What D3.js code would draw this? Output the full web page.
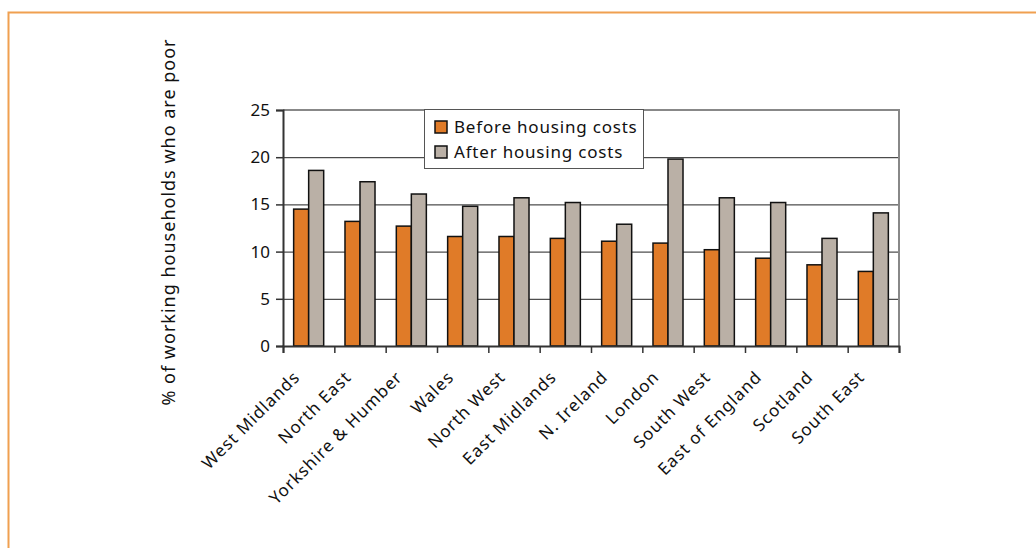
<!DOCTYPE html>
<html>
<head>
<meta charset="utf-8">
<script src="https://cdn.jsdelivr.net/npm/d3@7"></script>
<style>
  html, body { margin: 0; padding: 0; background: #fff; }
  svg text { font-family: "Noto Sans", "Open Sans", sans-serif; fill: #111; }
</style>
</head>
<body>
<div id="chart"></div>
<script>
const width = 1036;
const height = 548;
const margin = { top: 110, right: 137, bottom: 202, left: 283 };

// data
const regions = ["West Midlands", "North East", "Yorkshire & Humber", "Wales", "North West",
  "East Midlands", "N. Ireland", "London", "South West", "East of England", "Scotland", "South East"];
const beforeHC = [14.5, 13.2, 12.7, 11.6, 11.6, 11.4, 11.1, 10.9, 10.2, 9.3, 8.6, 7.9];
const afterHC = [18.6, 17.4, 16.1, 14.8, 15.7, 15.2, 12.9, 19.8, 15.7, 15.2, 11.4, 14.1];
const seriesNames = ["Before housing costs", "After housing costs"];
const yTicks = [0, 5, 10, 15, 20, 25];
const yLabel = "% of working households who are poor";

const colors = ["#E07B28", "#BAB0A6"];

const data = regions.map((r, i) => ({ region: r, values: [beforeHC[i], afterHC[i]] }));

const svg = d3.select("#chart").append("svg")
  .attr("width", width)
  .attr("height", height);

// ===== FRAME =====
svg.append("path")
  .attr("d", `M8.5,${height} V12.5 H${width}`)
  .attr("fill", "none")
  .attr("stroke", "#F0A050")
  .attr("stroke-width", 2);

const x0 = d3.scaleBand()
  .domain(regions)
  .range([margin.left, width - margin.right])
  .paddingInner(0.415)
  .paddingOuter(0.2075);

const x1 = d3.scaleBand()
  .domain([0, 1])
  .range([0, x0.bandwidth()]);

const y = d3.scaleLinear()
  .domain([0, 25])
  .range([height - margin.bottom, margin.top]);

// ===== GRIDLINES =====
svg.append("g")
  .selectAll("line")
  .data(yTicks.filter((d) => d > 0 && d < 25))
  .enter()
  .append("line")
  .attr("x1", margin.left)
  .attr("x2", width - margin.right)
  .attr("y1", (d) => y(d) + 0.5)
  .attr("y2", (d) => y(d) + 0.5)
  .attr("stroke", "#222")
  .attr("stroke-width", 1);

// top & right plot border
svg.append("path")
  .attr("d", `M${margin.left},${y(25)} H${width - margin.right} V${y(0)}`)
  .attr("fill", "none")
  .attr("stroke", "#888")
  .attr("stroke-width", 2);

// ===== BARS =====
const groups = svg.append("g")
  .selectAll("g")
  .data(data)
  .enter()
  .append("g")
  .attr("transform", (d) => `translate(${x0(d.region)},0)`);

groups.selectAll("rect")
  .data((d) => d.values.map((v, k) => ({ k, v })))
  .enter()
  .append("rect")
  .attr("x", (d) => x1(d.k))
  .attr("y", (d) => y(d.v))
  .attr("width", x1.bandwidth())
  .attr("height", (d) => y(0) - y(d.v))
  .attr("fill", (d) => colors[d.k])
  .attr("stroke", "#111")
  .attr("stroke-width", 1.5);

// ===== AXES =====
const yAxis = svg.append("g")
  .attr("transform", `translate(${margin.left},0)`)
  .call(d3.axisLeft(y).tickValues(yTicks).tickSize(7).tickPadding(6));
yAxis.select(".domain").attr("stroke", "#333").attr("stroke-width", 2);
yAxis.selectAll(".tick line").attr("stroke", "#333").attr("stroke-width", 1.5);
yAxis.selectAll("text").style("font-size", "17px").style("fill", "#111");

// category boundary ticks
const xIdx = d3.scaleLinear().domain([0, regions.length]).range([margin.left, width - margin.right]);
const xAxis = svg.append("g")
  .attr("transform", `translate(0,${y(0)})`)
  .call(d3.axisBottom(xIdx).ticks(regions.length).tickSize(7).tickFormat(""));
xAxis.select(".domain").attr("stroke", "#333").attr("stroke-width", 2);
xAxis.selectAll(".tick line").attr("stroke", "#333").attr("stroke-width", 1.5);

// rotated category labels
svg.append("g")
  .selectAll("text")
  .data(regions)
  .enter()
  .append("text")
  .attr("transform", (d) => `translate(${x0(d) + x0.bandwidth() / 2 - 12},${y(0) + 28}) rotate(-45)`)
  .attr("text-anchor", "end")
  .attr("dy", "0.35em")
  .style("font-size", "17px")
  .style("letter-spacing", "1px")
  .text((d) => d);

// y label
svg.append("text")
  .attr("transform", `translate(175,222) rotate(-90)`)
  .attr("text-anchor", "middle")
  .style("font-size", "18px")
  .style("letter-spacing", "1px")
  .text(yLabel);

// ===== LEGEND =====
const legend = svg.append("g").attr("transform", "translate(424,109)");
legend.append("rect")
  .attr("x", 0.5).attr("y", 0.5)
  .attr("width", 219).attr("height", 59)
  .attr("fill", "#fff")
  .attr("stroke", "#555")
  .attr("stroke-width", 1);

const items = legend.selectAll(".item")
  .data(seriesNames)
  .enter()
  .append("g")
  .attr("transform", (d, i) => `translate(11,${18 + i * 25})`);

items.append("rect")
  .attr("x", 0).attr("y", -6)
  .attr("width", 12).attr("height", 12)
  .attr("fill", (d, i) => colors[i])
  .attr("stroke", "#111")
  .attr("stroke-width", 1.5);

items.append("text")
  .attr("x", 19)
  .attr("dy", "0.35em")
  .style("font-size", "17px")
  .style("letter-spacing", "0.8px")
  .text((d) => d);
</script>
</body>
</html>
